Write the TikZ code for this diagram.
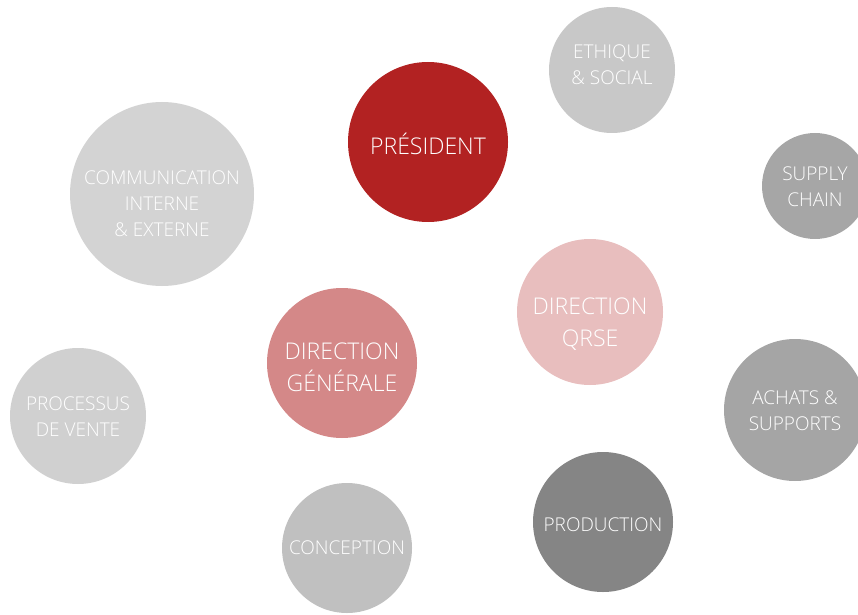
\documentclass[tikz,border=0pt]{standalone}
\usepackage{fontspec}
\setmainfont{Open Sans}[UprightFont=* Light]
\definecolor{cPres}{RGB}{178,34,34}
\definecolor{cDG}{RGB}{212,136,136}
\definecolor{cQRSE}{RGB}{232,190,190}
\definecolor{cEth}{RGB}{200,200,200}
\definecolor{cSup}{RGB}{166,166,166}
\definecolor{cCom}{RGB}{211,211,211}
\definecolor{cVen}{RGB}{208,208,208}
\definecolor{cAch}{RGB}{165,165,165}
\definecolor{cProd}{RGB}{133,133,133}
\definecolor{cConc}{RGB}{192,192,192}
\tikzset{
  bubble/.style={circle, draw=none, inner sep=0pt},
  smalltxt/.style={text=white, align=center, inner sep=0pt,
    font=\fontsize{19}{26}\selectfont},
  bigtxt/.style={text=white, align=center, inner sep=0pt,
    font=\fontsize{23}{32}\selectfont},
}
\begin{document}
\begin{tikzpicture}[x=1pt,y=1pt]
\useasboundingbox (0,0) rectangle (858,614);
\clip (0,0) rectangle (858,614);
% circles (y = 614 - pixel y)
\node[bubble, fill=cPres, minimum size=160pt] (pres) at (428,472) {};
\node[bubble, fill=cEth, minimum size=126pt] (eth) at (612,544) {};
\node[bubble, fill=cSup, minimum size=106pt] (sup) at (815,428) {};
\node[bubble, fill=cCom, minimum size=184pt] (com) at (162,420) {};
\node[bubble, fill=cQRSE, minimum size=146pt] (qrse) at (590,302) {};
\node[bubble, fill=cDG, minimum size=150pt] (dg) at (342,251) {};
\node[bubble, fill=cVen, minimum size=136pt] (ven) at (78,198) {};
\node[bubble, fill=cAch, minimum size=142pt] (ach) at (795,204) {};
\node[bubble, fill=cProd, minimum size=140pt] (prod) at (603,92) {};
\node[bubble, fill=cConc, minimum size=130pt] (conc) at (347,66) {};
% labels
\node[bigtxt] (tpres) at ([yshift=-2pt]pres.center) {PRÉSIDENT};
\node[smalltxt] (teth) at ([yshift=5pt]eth.center) {ETHIQUE\\\& SOCIAL};
\node[smalltxt] (tsup) at ([yshift=-1pt]sup.center) {SUPPLY\\CHAIN};
\node[smalltxt] (tcom) at ([yshift=-10pt]com.center) {COMMUNICATION\\INTERNE\\\& EXTERNE};
\node[bigtxt] (tqrse) at ([yshift=-12pt]qrse.center) {DIRECTION\\QRSE};
\node[bigtxt] (tdg) at ([yshift=-4pt]dg.center) {DIRECTION\\GÉNÉRALE};
\node[smalltxt] (tven) at ([yshift=-1pt]ven.center) {PROCESSUS\\DE VENTE};
\node[smalltxt] (tach) at ([yshift=-1pt]ach.center) {ACHATS \&\\SUPPORTS};
\node[smalltxt] (tprod) at ([yshift=-3pt]prod.center) {PRODUCTION};
\node[smalltxt] (tconc) at ([yshift=0pt]conc.center) {CONCEPTION};
\end{tikzpicture}
\end{document}
